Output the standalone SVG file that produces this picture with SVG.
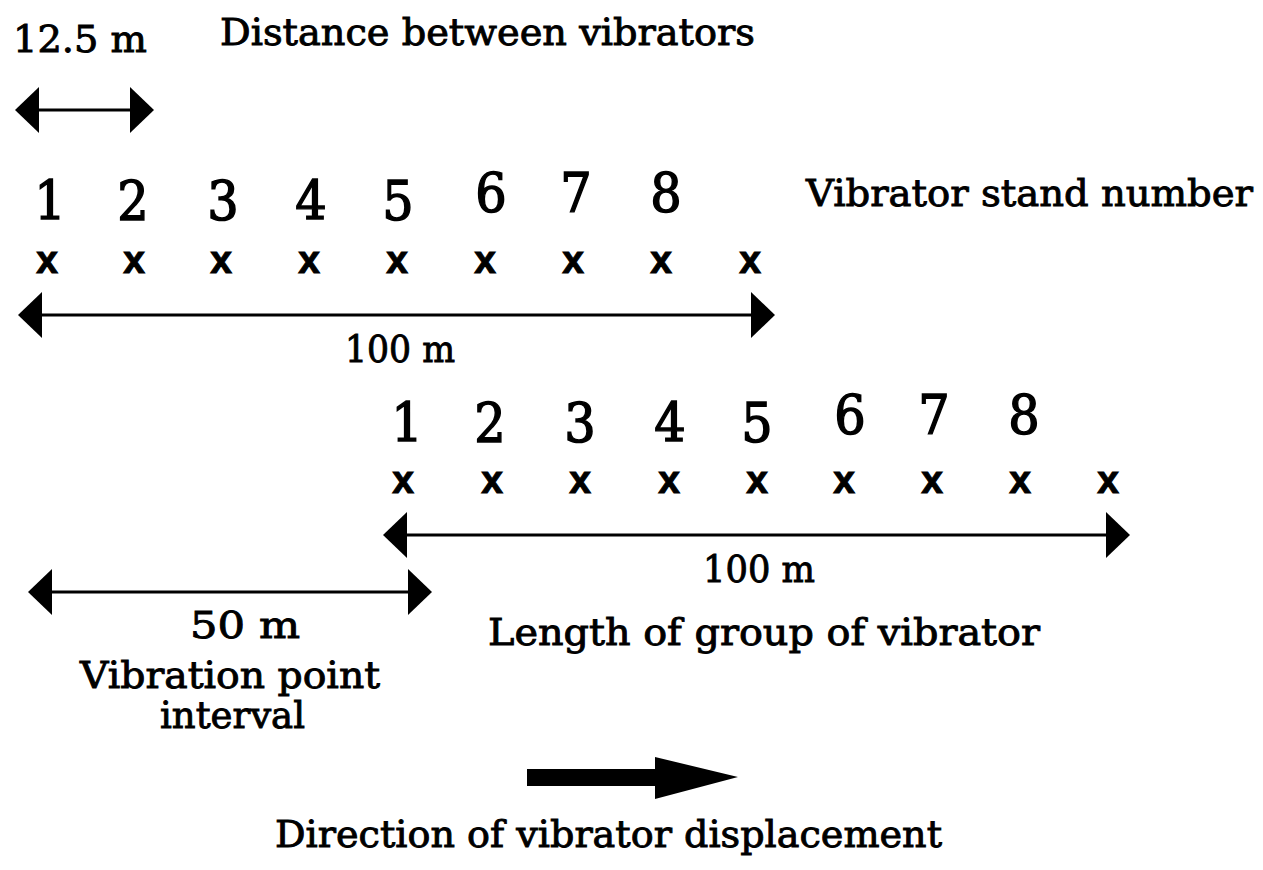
<svg xmlns="http://www.w3.org/2000/svg" width="1263" height="870" viewBox="0 0 1263 870">
<style>
.lbl{font-family:"DejaVu Serif","Liberation Serif",serif;font-size:37px;fill:#000;stroke:#000;stroke-width:0.9}
.num{font-family:"DejaVu Serif Condensed","DejaVu Serif","Liberation Serif",serif;font-size:55px;fill:#000;stroke:#000;stroke-width:1.4;text-anchor:middle}
.x{font-family:"Liberation Sans",Arial,sans-serif;font-weight:bold;font-size:39px;fill:#000;stroke:#000;stroke-width:1;text-anchor:middle}
.dim{stroke:#000;stroke-width:3.2;fill:none}
.mid{text-anchor:middle}
</style>
<defs>
<marker id="ah" viewBox="0 0 24 46" refX="22" refY="23" markerWidth="24" markerHeight="46" markerUnits="userSpaceOnUse" orient="auto-start-reverse">
<path d="M0,0 L24,23 L0,46 Z" fill="#000"/>
</marker>
</defs>
<rect width="1263" height="870" fill="#fff"/>

<g id="label-spacing">
<text class="lbl" x="13" y="52" textLength="134" lengthAdjust="spacingAndGlyphs">12.5  m</text>
<text class="lbl" x="220" y="45" textLength="535" lengthAdjust="spacingAndGlyphs">Distance  between  vibrators</text>
</g>

<g id="label-stand-number">
<text class="lbl" x="806" y="206" textLength="447" lengthAdjust="spacingAndGlyphs">Vibrator  stand  number</text>
</g>

<g id="stands-row1">
<text class="num" x="50" y="220">1</text>
<text class="num" x="133" y="220">2</text>
<text class="num" x="223" y="220">3</text>
<text class="num" x="311" y="220">4</text>
<text class="num" x="398" y="220">5</text>
<text class="num" x="491" y="212">6</text>
<text class="num" x="576" y="212">7</text>
<text class="num" x="666" y="212">8</text>
<text class="x" x="47" y="273">x</text>
<text class="x" x="134" y="273">x</text>
<text class="x" x="221" y="273">x</text>
<text class="x" x="309" y="273">x</text>
<text class="x" x="397" y="273">x</text>
<text class="x" x="485" y="273">x</text>
<text class="x" x="573" y="273">x</text>
<text class="x" x="661" y="273">x</text>
<text class="x" x="750" y="273">x</text>
</g>

<g id="stands-row2">
<text class="num" x="407" y="442">1</text>
<text class="num" x="490" y="442">2</text>
<text class="num" x="580" y="442">3</text>
<text class="num" x="670" y="442">4</text>
<text class="num" x="757" y="442">5</text>
<text class="num" x="850" y="434">6</text>
<text class="num" x="934" y="434">7</text>
<text class="num" x="1024" y="434">8</text>
<text class="x" x="403" y="493">x</text>
<text class="x" x="492" y="493">x</text>
<text class="x" x="580" y="493">x</text>
<text class="x" x="669" y="493">x</text>
<text class="x" x="757" y="493">x</text>
<text class="x" x="844" y="493">x</text>
<text class="x" x="932" y="493">x</text>
<text class="x" x="1020" y="493">x</text>
<text class="x" x="1108" y="493">x</text>
</g>

<g id="label-100m-1">
<text class="lbl" x="345" y="362" textLength="110" lengthAdjust="spacingAndGlyphs">100  m</text>
</g>
<g id="label-100m-2">
<text class="lbl" x="703" y="582" textLength="112" lengthAdjust="spacingAndGlyphs">100  m</text>
<text class="lbl" x="488" y="645" textLength="552" lengthAdjust="spacingAndGlyphs">Length  of  group  of  vibrator</text>
</g>
<g id="label-50m">
<text class="lbl" x="190" y="638" textLength="110" lengthAdjust="spacingAndGlyphs">50  m</text>
<text class="lbl" x="80" y="688" textLength="300" lengthAdjust="spacingAndGlyphs">Vibration  point</text>
<text class="lbl" x="160" y="728" textLength="145" lengthAdjust="spacingAndGlyphs">interval</text>
</g>
<g id="label-direction">
<text class="lbl" x="275" y="847" textLength="667" lengthAdjust="spacingAndGlyphs">Direction  of  vibrator  displacement</text>
</g>

<g id="connectors">
<line class="dim" x1="17" y1="110" x2="152" y2="110" marker-start="url(#ah)" marker-end="url(#ah)"/>
<line class="dim" x1="20" y1="315" x2="773" y2="315" marker-start="url(#ah)" marker-end="url(#ah)"/>
<line class="dim" x1="385" y1="535" x2="1128" y2="535" marker-start="url(#ah)" marker-end="url(#ah)"/>
<line class="dim" x1="30" y1="592" x2="430" y2="592" marker-start="url(#ah)" marker-end="url(#ah)"/>
<path d="M527,769 L655,769 L655,757 L738,777 L655,799 L655,786 L527,786 Z" fill="#000"/>
</g>
</svg>
